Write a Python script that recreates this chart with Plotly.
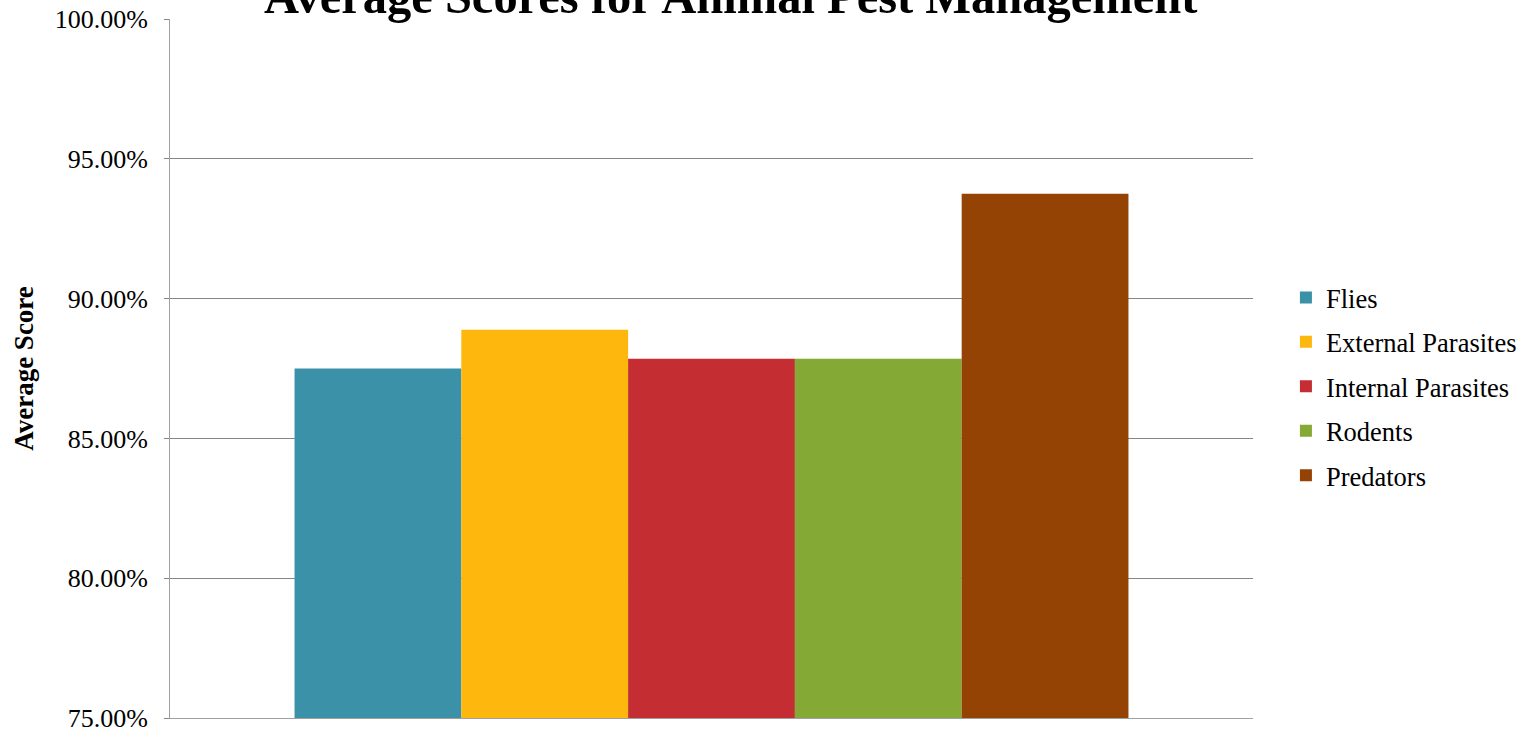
import plotly.graph_objects as go

categories = ["Average Score"]
series_names = ["Flies", "External Parasites", "Internal Parasites", "Rodents", "Predators"]
series_values = [87.5, 88.89, 87.85, 87.85, 93.75]
series_colors = ["#3B91A8", "#FEB70C", "#C42D31", "#84A935", "#954205"]
y_ticks = [75, 80, 85, 90, 95, 100]
y_tick_labels = ["75.00%", "80.00%", "85.00%", "90.00%", "95.00%", "100.00%"]

FONT = "Liberation Serif, Times New Roman, serif"

fig = go.Figure()
for name, val, col in zip(series_names, series_values, series_colors):
    fig.add_trace(go.Bar(
        x=categories, y=[val], name=name, marker=dict(color=col, line=dict(width=0)),
        legendgroup=name,
    ))

fig.update_layout(
    width=1524, height=730,
    margin=dict(l=170, r=271, t=19, b=12, autoexpand=False),
    paper_bgcolor="white", plot_bgcolor="white",
    barmode="group", bargap=0.23, bargroupgap=0,
    font=dict(family=FONT, color="black"),
    showlegend=True,
    legend=dict(
        x=1.0304, xanchor="left", y=0.474, yanchor="middle",
        font=dict(family=FONT, size=26.5, color="black"),
        traceorder="grouped", tracegroupgap=7,
        itemwidth=30,
    ),
    xaxis=dict(
        showticklabels=False, showgrid=False, showline=True,
        linecolor="#A0A0A0", linewidth=1, ticks="", automargin=False,
    ),
    yaxis=dict(
        range=[75, 100], tickvals=y_ticks, ticktext=y_tick_labels,
        showgrid=True, gridcolor="#868686", gridwidth=1,
        showline=True, linecolor="#A0A0A0", linewidth=1,
        ticks="outside", ticklen=5, tickcolor="#868686",
        ticklabelstandoff=11, ticklabeloverflow="allow",
        tickfont=dict(family=FONT, size=26, color="black"),
        title=dict(text="<b>Average Score</b>", font=dict(family=FONT, size=27, color="black"), standoff=13),
        zeroline=False, automargin=False,
    ),
    annotations=[dict(
        text="<b>Average Scores for Animal Pest Management</b>",
        xref="paper", yref="paper", x=0.5178, y=1.0, xanchor="center", yanchor="middle",
        yshift=23, showarrow=False,
        font=dict(family=FONT, size=48.5, color="black"),
    )],
)

fig.write_html("out.html", config={"displayModeBar": False},
               post_script="document.body.style.margin='0';document.body.style.overflow='hidden';")
